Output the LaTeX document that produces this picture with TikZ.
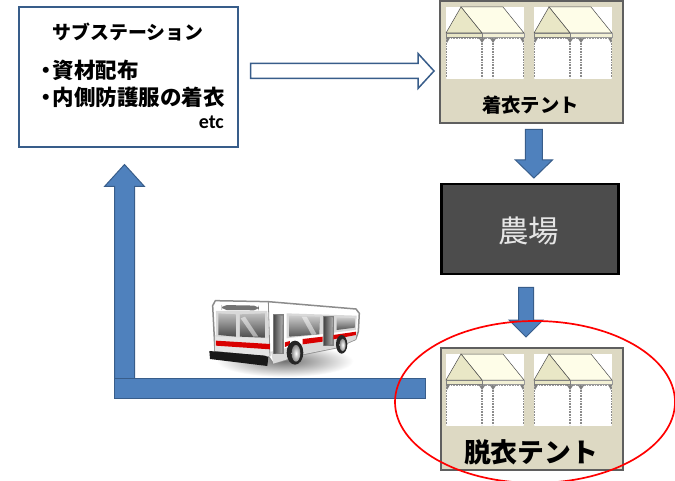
\documentclass[tikz,border=0pt]{standalone}
\usepackage{fontspec}
\setmainfont{Noto Sans CJK JP}
\newfontfamily\latinf{Carlito}
\usetikzlibrary{calc,positioning,shapes.geometric}
\definecolor{blockblue}{HTML}{4F81BD}
\definecolor{blockedge}{HTML}{385D8A}
\definecolor{tentbox}{HTML}{DDD9C3}
\definecolor{tentedge}{HTML}{5F5F5F}
\definecolor{gable}{HTML}{E9E7C6}
\definecolor{roofc}{HTML}{FEFDE8}
\definecolor{bandc}{HTML}{F3F1D6}
\tikzset{
  panel/.style={draw=#1,line width=2pt,inner sep=0pt,anchor=north west},
  lbl/.style={inner sep=0pt,font=\bfseries,text=black},
  solidarrow/.style={fill=blockblue,draw=blockedge,line width=1pt,line join=miter},
  hollowarrow/.style={fill=white,draw=blockedge,line width=1.5pt,line join=miter},
}
% start, end, half shaft, half head, head length, style
\newcommand{\blockarrow}[6]{%
  \coordinate (hb) at ($(#2)!#5pt!(#1)$);
  \draw[#6] ($(#1)!#3pt!90:(#2)$) -- ($(hb)!#3pt!-90:(#1)$) -- ($(hb)!#4pt!-90:(#1)$) -- (#2)
    -- ($(hb)!#4pt!90:(#1)$) -- ($(hb)!#3pt!90:(#1)$) -- ($(#1)!#3pt!-90:(#2)$) -- cycle;
}
\newcommand{\tent}[2]{%
 \begin{scope}[shift={(#1,#2)}]
  \fill[white] (0,0) rectangle (78,72);
  \draw[black!45,line width=1.5pt,dash pattern=on 1pt off .6pt]
     (0.7,31)--(0.7,71) (36,31)--(36,71) (47,31)--(47,71) (77.3,31)--(77.3,71);
  \fill[black!50] (0,30)--(4.5,30)--(1,36)--cycle (32,30)--(40,30)--(36,36)--cycle
     (43,30)--(51,30)--(47,36)--cycle (73.5,30)--(78,30)--(77,36)--cycle;
  \draw[black!40,line width=.7pt,dash pattern=on .8pt off .8pt] (5,31.5)--(73,31.5);
  \filldraw[fill=roofc,draw=black!70,line width=.5pt] (15,0)--(57,0)--(78,26)--(36,26)--cycle;
  \filldraw[fill=gable,draw=black!70,line width=.5pt] (15,0)--(36,26)--(0,26)--cycle;
  \filldraw[fill=bandc,draw=black!40,line width=.4pt] (36,26) rectangle (78,30);
  \filldraw[fill=gable,draw=black!50,line width=.4pt] (0,26) rectangle (36,30);
 \end{scope}}
\begin{document}
\begin{tikzpicture}[x=1pt,y=-1pt]
\useasboundingbox (0,0) rectangle (675,481);
\fill[white] (0,0) rectangle (675,481);

% boxes
\node[panel=blockedge,fill=white,minimum width=219pt,minimum height=140pt] (sub) at (17.5,6.5) {};
\node[panel=tentedge,fill=tentbox,minimum width=183pt,minimum height=122pt] (dress) at (439,0.5) {};
\node[panel=black,line width=2.5pt,fill=black!70,minimum width=177pt,minimum height=90pt] (farm) at (440.2,183) {};
\node[panel=tentedge,fill=tentbox,minimum width=182pt,minimum height=122pt] (undress) at (439.5,347) {};

% tents
\tent{446}{7}\tent{534}{7}
\tent{446}{354}\tent{534}{354}

% texts
\node[lbl,font=\bfseries\fontsize{18.9}{20}\selectfont] (t1) at (128,32) {サブステーション};
\node[lbl,font=\bfseries\fontsize{21.5}{24}\selectfont,anchor=west] (t2) at (35.5,70) {・\kern-4.5pt 資材配布};
\node[lbl,font=\bfseries\fontsize{21.5}{24}\selectfont,anchor=west] (t3) at (35.5,97) {・\kern-4.5pt 内側防護服の着衣};
\node[lbl,font=\latinf\bfseries\fontsize{20}{22}\selectfont,anchor=east] (t4) at (224,122) {etc};
\node[lbl,font=\bfseries\fontsize{19.3}{22}\selectfont] (t5) at (530.5,105) {着衣テント};
\node[inner sep=0pt,text=black!10,font=\fontsize{30.5}{34}\selectfont] (t6) at (528.5,231) {農場};
\node[lbl,font=\bfseries\fontsize{26.8}{30}\selectfont] (t7) at (531,452) {脱衣テント};

% connectors
\coordinate (a1s) at ($(sub.east)+(12,-7)$);
\coordinate (a1e) at ($(dress.west)+(-5,8.5)$);
\coordinate (a1b) at (a1s |- a1e);
\blockarrow{a1b}{a1e}{7.5}{17.5}{16}{hollowarrow}
\coordinate (a2e) at ($(farm.north)+(4,-5)$);
\coordinate (a2t) at ($(dress.south)+(0,5)$);
\coordinate (a2s) at (a2e |- a2t);
\blockarrow{a2s}{a2e}{8.5}{18.5}{18}{solidarrow}
\coordinate (a3e) at ($(undress.north)+(-5.5,-10)$);
\coordinate (a3t) at ($(farm.south)+(0,12)$);
\coordinate (a3s) at (a3e |- a3t);
\blockarrow{a3s}{a3e}{7.5}{17}{17}{solidarrow}
\coordinate (a4e) at ($(sub.south)+(-3.5,16)$);
\coordinate (a4t) at (0,398);
\coordinate (a4s) at (a4e |- a4t);
\blockarrow{a4s}{a4e}{10}{20}{22}{solidarrow}
\draw[solidarrow] (114,378) rectangle (425,398);

% bus
\begin{scope}[shift={(190,285)},x=0.3333pt,y=-0.3333pt]
  \shade[inner color=black!55,outer color=white] (285,228) ellipse [x radius=205,y radius=48];
  \filldraw[fill=white,draw=black!45,line width=1.5pt,line join=round]
    (68,62)--(76,47)--(235,50)--(498,72)--(508,85)--(505,140)--(497,163)--(440,188)
    --(340,208)--(250,236)--(235,214)--(75,198)--cycle;
  \fill[black!10] (75,150)--(240,160)--(240,214)--(75,198)--cycle;
  \fill[black!15] (243,200)--(500,140)--(497,163)--(440,188)--(340,208)--(250,236)--cycle;
  \fill[black!15] (78,78)--(232,78)--(238,160)--(78,155)--cycle;
  \fill[black!15] (290,85)--(500,92)--(498,135)--(290,160)--cycle;
  \draw[black!45,line width=.8pt] (235,50)--(240,214);
  \fill[black!55,rounded corners=5pt] (95,60)--(207,62)--(207,76)--(95,75)--cycle;
  \shade[top color=black!25,bottom color=black!70] (85,85)--(138,88)--(138,155)--(85,150)--cycle;
  \shade[top color=black!25,bottom color=black!70] (150,88)--(225,85)--(225,158)--(150,155)--cycle;
  \fill[white,opacity=.5] (152,100)--(165,95)--(205,155)--(190,155)--cycle;
  \fill[black!50] (248,86) rectangle (282,208);
  \shade[left color=black!70,right color=black!30] (252,90)--(278,92)--(276,204)--(252,206)--cycle;
  \shade[top color=black!20,bottom color=black!65] (298,92)--(390,95)--(388,148)--(298,155)--cycle;
  \fill[white,opacity=.5] (335,95)--(350,95)--(380,148)--(365,150)--cycle;
  \fill[black!50] (400,92) rectangle (432,184);
  \shade[left color=black!70,right color=black!30] (403,95)--(429,97)--(427,178)--(403,182)--cycle;
  \shade[top color=black!20,bottom color=black!65] (440,97)--(495,100)--(495,128)--(440,135)--cycle;
  \fill[red!85!black] (78,167)--(240,177)--(240,193)--(78,182)--cycle;
  \fill[red!85!black] (285,172)--(300,168)--(300,180)--(285,186)--cycle;
  \fill[red!85!black] (338,162)--(398,155)--(398,170)--(338,178)--cycle;
  \fill[red!85!black] (430,150)--(498,140)--(498,150)--(430,163)--cycle;
  \fill[black!85] (315,203) ellipse [x radius=25,y radius=36];
  \shade[inner color=white,outer color=black!45] (318,205) ellipse [x radius=13,y radius=25];
  \fill[black!85] (455,178) ellipse [x radius=17,y radius=28];
  \shade[inner color=white,outer color=black!45] (458,180) ellipse [x radius=9,y radius=19];
  \fill[black!90] (58,198)--(225,212)--(235,217)--(232,243)--(60,222)--cycle;
\end{scope}

% red ellipse
\node[draw=red,line width=1.7pt,ellipse,minimum width=280pt,minimum height=162pt,inner sep=0pt] (ring) at (535,402) {};
\end{tikzpicture}
\end{document}
